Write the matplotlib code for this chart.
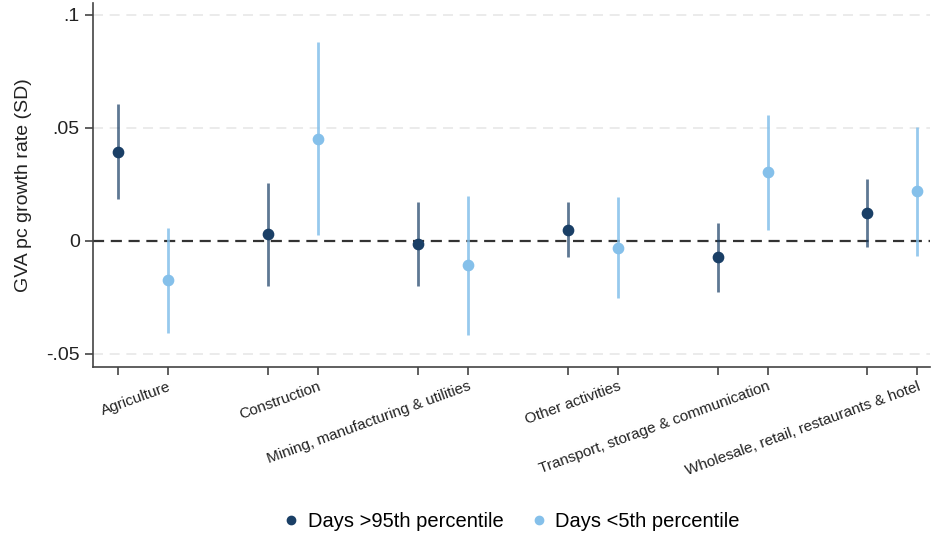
import numpy as np
import matplotlib.pyplot as plt
from matplotlib.lines import Line2D

plt.rcParams['font.family'] = ['Liberation Sans', 'DejaVu Sans']

# sectors
sectores = ['Agriculture', 'Construction', 'Mining, manufacturing & utilities',
            'Other activities', 'Transport, storage & communication',
            'Wholesale, retail, restaurants & hotel']

# Days >95th percentile
quente = [0.0395, 0.0031, -0.0012, 0.0050, -0.0071, 0.0125]
quente_lo = [0.0184, -0.0198, -0.0199, -0.0072, -0.0224, -0.0025]
quente_hi = [0.0606, 0.0254, 0.0174, 0.0174, 0.0078, 0.0276]

# Days <5th percentile
frio = [-0.0174, 0.0450, -0.0108, -0.0031, 0.0304, 0.0220]
frio_lo = [-0.0408, 0.0024, -0.0416, -0.0251, 0.0049, -0.0066]
frio_hi = [0.0056, 0.0880, 0.0200, 0.0192, 0.0558, 0.0506]

cor_escura = '#1a3f66'
cor_clara = '#85c0ea'

fig = plt.figure(figsize=(9.34, 5.37), dpi=100)
ax = fig.add_axes([0.0996, 0.3166, 0.896, 0.678])

pos = np.arange(len(sectores)) * 3
pos_q = pos
pos_f = pos + 1

# grade
for v in [0.1, 0.05, -0.05]:
    ax.axhline(v, color='#e8e8e8', lw=1.2, ls=(0, (6, 4)), zorder=0)
ax.axhline(0, color='#333333', lw=1.6, ls=(0, (5, 3)), zorder=1)

ax.vlines(pos_q, quente_lo, quente_hi, color=cor_escura, alpha=0.7, lw=2, zorder=2)
ax.scatter(pos_q, quente, color=cor_escura, s=55, zorder=3)
ax.vlines(pos_f, frio_lo, frio_hi, color=cor_clara, alpha=0.85, lw=2, zorder=2)
ax.scatter(pos_f, frio, color=cor_clara, s=55, zorder=3)

ax.set_xlim(-0.5, 16.25)
ax.set_ylim(-0.0558, 0.1053)

ax.set_yticks([-0.05, 0, 0.05, 0.1])
ax.set_yticklabels(['-.05', '0', '.05', '.1'], fontsize=14, color='#222222')
ax.set_ylabel('GVA pc growth rate (SD)', fontsize=14, color='#222222', labelpad=10)

ticks = np.sort(np.concatenate([pos_q, pos_f]))
ax.set_xticks(ticks)
rotulos = []
for t in ticks:
    if t % 3 == 1:
        rotulos.append(sectores[int(t // 3)])
    else:
        rotulos.append('')
ax.set_xticklabels(rotulos, rotation=20, ha='right', rotation_mode='anchor', fontsize=11, color='#222222')

ax.tick_params(axis='both', length=6, width=1.2, color='#444444')
ax.tick_params(axis='x', pad=3)
for s in ['top', 'right']:
    ax.spines[s].set_visible(False)
for s in ['left', 'bottom']:
    ax.spines[s].set_color('#444444')
    ax.spines[s].set_linewidth(1.2)

legenda = [Line2D([], [], marker='o', ls='', color=cor_escura, markersize=6, label='Days >95th percentile'),
           Line2D([], [], marker='o', ls='', color=cor_clara, markersize=6, label='Days <5th percentile')]
fig.legend(handles=legenda, loc='center', bbox_to_anchor=(0.548, 0.028), ncol=2, frameon=False,
           fontsize=14.5, handlelength=0.7, handletextpad=0.45, columnspacing=1.4)

fig.savefig('out.png', dpi=100)
